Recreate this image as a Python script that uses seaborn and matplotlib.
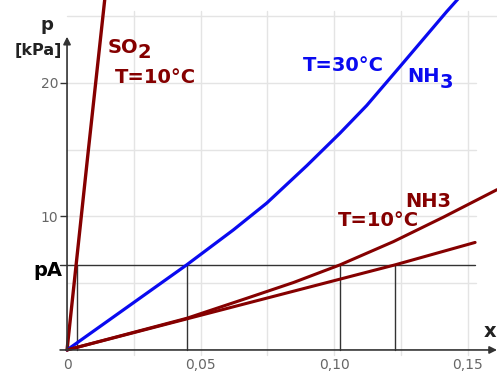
import matplotlib
matplotlib.use("Agg")
import matplotlib.pyplot as plt
import seaborn as sns
import pandas as pd

# ---- data ----
so2_x = [0.0, 0.0034, 0.0079, 0.0141]
so2_p = [0.0, 6.37, 14.8, 26.2]

nh3_30_x = [0.0, 0.0448, 0.0623, 0.0748, 0.0898, 0.1022, 0.1122, 0.1247, 0.1422, 0.1465]
nh3_30_p = [0.0, 6.37, 8.99, 11.0, 13.8, 16.23, 18.3, 21.22, 25.34, 26.3]

nh3_10_x = [0.0, 0.0448, 0.0673, 0.0848, 0.1022, 0.1222, 0.141, 0.161]
nh3_10_p = [0.0, 2.37, 3.87, 5.05, 6.37, 8.11, 9.95, 12.0]

line_x = [0.0, 0.1228, 0.1528]
line_p = [0.0, 6.37, 8.05]

pA = 6.37
pA_x = [0.0036, 0.0448, 0.1022, 0.1228]

x_ticks = [0.0, 0.05, 0.10, 0.15]
x_ticklabels = ["0", "0,05", "0,10", "0,15"]
y_ticks = [10, 20]
y_ticklabels = ["10", "20"]
x_grid = [0.025, 0.05, 0.075, 0.10, 0.125, 0.15]
y_grid = [5, 10, 15, 20, 25]

RED = "#850000"
BLUE = "#0a0af0"
AX = "#333333"

sns.set_theme(style="white")
plt.rcParams["font.family"] = ["DejaVu Sans"]

fig = plt.figure(figsize=(4.97, 3.72), dpi=100)
ax = fig.add_axes([0, 0, 1, 1])
ax.set_xlim(-0.0251, 0.161)
ax.set_ylim(-1.65, 26.2)

# grid
for gx in x_grid:
    ax.plot([gx, gx], [-0.35, 25.4], color="#e4e4e4", lw=1.0, zorder=0)
for gy in y_grid:
    ax.plot([0, 0.1532 if gy < 25 else 0.161], [gy, gy], color="#e4e4e4", lw=1.0, zorder=0)

# pA construction lines
ax.plot([-0.0026, 0.1528], [pA, pA], color=AX, lw=1.0, zorder=1)
for vx in pA_x:
    ax.plot([vx, vx], [0, pA], color=AX, lw=1.0, zorder=1)

# curves
df_so2 = pd.DataFrame({"x": so2_x, "p": so2_p})
df_30 = pd.DataFrame({"x": nh3_30_x, "p": nh3_30_p})
df_10 = pd.DataFrame({"x": nh3_10_x, "p": nh3_10_p})
df_ln = pd.DataFrame({"x": line_x, "p": line_p})
sns.lineplot(data=df_so2, x="x", y="p", ax=ax, color=RED, lw=2.4, sort=False, estimator=None, zorder=3)
sns.lineplot(data=df_30, x="x", y="p", ax=ax, color=BLUE, lw=2.3, sort=False, estimator=None, zorder=3)
sns.lineplot(data=df_10, x="x", y="p", ax=ax, color=RED, lw=2.2, sort=False, estimator=None, zorder=3)
sns.lineplot(data=df_ln, x="x", y="p", ax=ax, color=RED, lw=2.2, sort=False, estimator=None, zorder=3)

# axes: spines at zero, invisible; arrows drawn instead
for s in ["top", "right"]:
    ax.spines[s].set_visible(False)
ax.spines["left"].set_position(("data", 0))
ax.spines["bottom"].set_position(("data", 0))
ax.spines["left"].set_visible(False)
ax.spines["bottom"].set_visible(False)
ax.annotate("", xy=(0, 23.45), xytext=(0, 0),
            arrowprops=dict(arrowstyle="-|>", color=AX, lw=1.2, mutation_scale=11, shrinkA=0, shrinkB=0), zorder=4)
ax.annotate("", xy=(0.161, 0), xytext=(-0.0026, 0),
            arrowprops=dict(arrowstyle="-|>", color=AX, lw=1.2, mutation_scale=11, shrinkA=0, shrinkB=0), zorder=4)

ax.set_xticks(x_ticks)
ax.set_xticklabels(x_ticklabels)
ax.set_yticks(y_ticks)
ax.set_yticklabels(y_ticklabels)
ax.tick_params(axis="x", length=0, pad=6, labelsize=10, labelcolor="#666666")
ax.tick_params(axis="y", length=5, width=1, color=AX, pad=1.5, labelsize=10, labelcolor="#666666",
               direction="out", left=True)
ax.set_xlabel("")
ax.set_ylabel("")
ax.grid(False)


def px(xp, yp):
    return (xp - 67) / 2670.0, (350 - yp) / 13.35


def put(xp, yp, s, color, size=14, ha="left", **kw):
    x, y = px(xp, yp)
    ax.text(x, y, s, color=color, fontsize=size, fontweight="bold", ha=ha, va="baseline", **kw)


put(108, 53, "SO", RED)
put(137, 58, "2", RED)
put(115, 83, "T=10°C", RED)
put(303, 71, "T=30°C", BLUE)
put(407, 82, "NH", BLUE)
put(440, 88, "3", BLUE)
put(405, 207, "NH3", RED)
put(338, 226, "T=10°C", RED)

put(62, 276, "pA", "black", size=14, ha="right")
put(53, 30, "p", "#222222", size=13, ha="right")
put(62, 55, "[kPa]", "#222222", size=11.5, ha="right")
put(484, 337, "x", "#222222", size=14)

fig.savefig("out.png", dpi=100)
